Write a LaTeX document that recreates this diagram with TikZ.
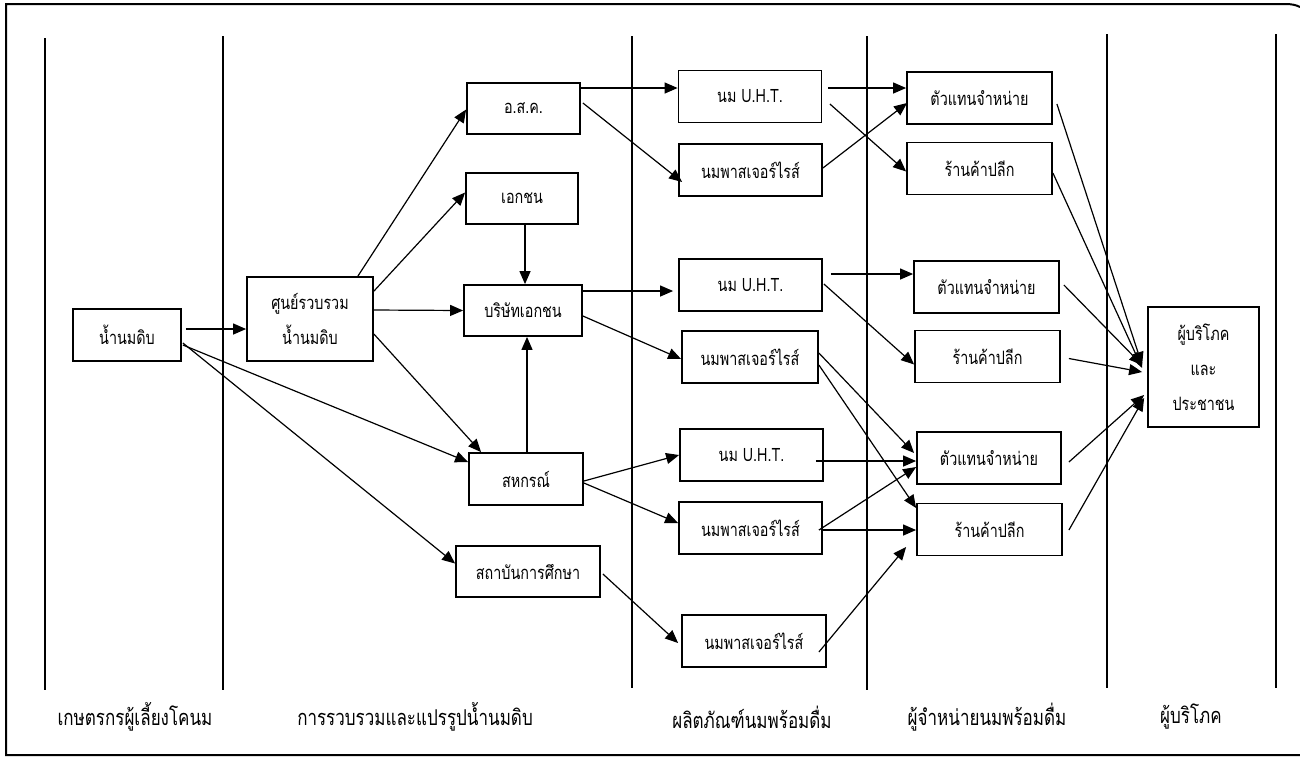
\documentclass[tikz,border=0pt]{standalone}
\usepackage{fontspec}
\newfontfamily\thai[Script=Thai,FakeStretch=0.78]{Loma}
\usetikzlibrary{arrows.meta,calc}

\begin{document}
\begin{tikzpicture}[x=0.5pt,y=-0.5pt,
  box/.style={draw,line width=0.9pt,inner sep=0pt,minimum width=71.5pt,minimum height=26pt,
    font=\thai\fontsize{9.2}{17.5}\selectfont,align=center},
  flow/.style={line width=0.6pt,-{Triangle[length=6.5pt,width=5.5pt]}},
  lane/.style={line width=0.7pt},
  lanelabel/.style={font=\thai\fontsize{10.9}{12}\selectfont}]
\useasboundingbox (0,0) rectangle (1300,757);

% outer frame (open on the right)
\draw[line width=1pt] (1300,7) .. controls (1296,5) and (1292,4) .. (1285,4) -- (6,4) -- (6,755) -- (1300,755);

% lane separators
\foreach \lx/\ty/\by in {45/38/690, 223/36/690, 632/36/688, 867/36/690, 1107/34/688, 1276/34/688}
  \draw[lane] (\lx,\ty) -- (\lx,\by);

% lane titles
\node[lanelabel] (lab1) at (135,717) {เกษตรกรผู้เลี้ยงโคนม};
\node[lanelabel] (lab2) at (415,717) {การรวบรวมและแปรรูปน้ำนมดิบ};
\node[lanelabel] (lab3) at (752,717) {ผลิตภัณฑ์นมพร้อมดื่ม};
\node[lanelabel] (lab4) at (987,717) {ผู้จำหน่ายนมพร้อมดื่ม};
\node[lanelabel] (lab5) at (1191,717) {ผู้บริโภค};

% farmers and collection
\node[box,minimum width=54pt] (raw) at (127,335) {น้ำนมดิบ};
\node[box,minimum width=63pt,minimum height=42pt] (center) at (310,319) {ศูนย์รวบรวม\\น้ำนมดิบ};
\node[box,minimum width=56.5pt,minimum height=25.5pt] (osk) at (523.5,108.5) {อ.ส.ค.};
\node[box,minimum width=56pt,minimum height=25.5pt] (private) at (522,198.5) {เอกชน};
\node[box,minimum width=59pt,minimum height=25.5pt] (company) at (523,310.5) {บริษัทเอกชน};
\node[box,minimum width=57pt] (coop) at (526,479) {สหกรณ์};
\node[box,minimum width=72pt,minimum height=25.5pt] (edu) at (528,571.5) {สถาบันการศึกษา};

% products
\node[box] (uht1) at (750,96.5) {นม U.H.T.};
\node[box] (past1) at (750.5,170) {นมพาสเจอร์ไรส์};
\node[box] (uht2) at (750.5,285) {นม U.H.T.};
\node[box,minimum width=68pt] (past2) at (750,357) {นมพาสเจอร์ไรส์};
\node[box] (uht3) at (751.5,455) {นม U.H.T.};
\node[box] (past3) at (750.5,528) {นมพาสเจอร์ไรส์};
\node[box,minimum width=72pt] (past4) at (754,641) {นมพาสเจอร์ไรส์};

% distributors
\node[box,minimum width=72.5pt] (ag1) at (979.5,98) {ตัวแทนจำหน่าย};
\node[box,minimum width=72.5pt] (rt1) at (979.5,168.5) {ร้านค้าปลีก};
\node[box,minimum width=72.5pt] (ag2) at (986.5,287) {ตัวแทนจำหน่าย};
\node[box,minimum width=72.5pt] (rt2) at (987.5,356.5) {ร้านค้าปลีก};
\node[box,minimum width=72pt] (ag3) at (989,458) {ตัวแทนจำหน่าย};
\node[box,minimum width=72.5pt] (rt3) at (989.5,529.5) {ร้านค้าปลีก};

% consumers
\node[box,minimum width=55.5pt,minimum height=60pt] (cons) at (1203.5,367) {ผู้บริโภค\\และ\\ประชาชน};

% raw milk flows
\draw[flow] ($(raw.east)+(4,-6)$) -- ($(center.west)+(0,10)$);
\draw[flow] ($(raw.east)+(1,10)$) -- ($(coop.west)+(0,-17)$);
\draw[flow] ($(raw.east)+(1,8)$) -- ($(edu.west)+(0,-8)$);

% collection centre to processors
\draw[flow] ($(center.north east)+(-16,0)$) -- ($(osk.west)+(0,1)$);
\draw[flow] ($(center.north east)+(0,15)$) -- ($(private.west)+(0,-6)$);
\draw[flow] ($(center.east)+(0,-9)$) -- (company.west);
\draw[flow] ($(center.east)+(0,15)$) -- ($(coop.north west)+(13,0)$);
\draw[flow] ($(private.south)+(3,0)$) -- ($(company.north)+(2,0)$);
\draw[flow] ($(coop.north)+(1,0)$) -- ($(company.south)+(4,0)$);

% processors to products
\draw[flow] ($(osk.east)+(0,-20.5)$) -- ($(uht1.west)+(0,-8.5)$);
\draw[flow] ($(osk.east)+(2,-5.5)$) -- ($(past1.west)+(4,12)$);
\draw[flow] ($(company.east)+(0,-19.5)$) -- ($(uht2.west)+(-5,6)$);
\draw[flow] ($(company.east)+(0,5.5)$) -- ($(past2.west)+(0,2)$);
\draw[flow] ($(coop.east)+(0,2)$) -- (uht3.west);
\draw[flow] ($(coop.east)+(0,4)$) -- ($(past3.west)+(0,-5)$);
\draw[flow] ($(edu.east)+(2,2.5)$) -- ($(past4.west)+(-3,2)$);

% products to distributors
\draw[flow] ($(uht1.east)+(6,-8.5)$) -- ($(ag1.west)+(0,-10)$);
\draw[flow] ($(uht1.east)+(7.5,7.5)$) -- ($(rt1.west)+(0,3)$);
\draw[flow] ($(past1.east)+(0,-2)$) -- ($(ag1.west)+(1,5)$);
\draw[flow] ($(uht2.east)+(8,-11)$) -- ($(ag2.west)+(0,-13)$);
\draw[flow] ($(uht2.east)+(1,-1)$) -- ($(rt2.west)+(0,8)$);
\draw[flow] ($(past2.east)+(0,-4)$) -- ($(ag3.west)+(-2,-5)$);
\draw[flow] ($(past2.east)+(0,8)$) -- ($(rt3.west)+(0,-21.5)$);
\draw[flow] ($(uht3.east)+(-8,6)$) -- ($(ag3.west)+(0,3)$);
\draw[flow] ($(past3.east)+(-4,2)$) -- ($(ag3.west)+(0,9)$);
\draw[flow] ($(past3.east)+(0,2)$) -- ($(rt3.west)+(0,0.5)$);
\draw[flow] ($(past4.east)+(-8,11)$) -- ($(rt3.west)+(-10,17.5)$);

% distributors to consumers
\draw[flow] ($(ag1.east)+(4,6)$) -- ($(cons.west)+(-5,-2)$);
\draw[flow] ($(rt1.east)+(0,4.5)$) -- ($(cons.west)+(-5,1)$);
\draw[flow] ($(ag2.east)+(4,-2)$) -- ($(cons.west)+(-5,-2)$);
\draw[flow] ($(rt2.east)+(8,2)$) -- ($(cons.west)+(-5,5)$);
\draw[flow] ($(ag3.east)+(7,4)$) -- ($(cons.west)+(-3,28)$);
\draw[flow] ($(rt3.east)+(6,0.5)$) -- ($(cons.west)+(-3,31)$);
\end{tikzpicture}
\end{document}
